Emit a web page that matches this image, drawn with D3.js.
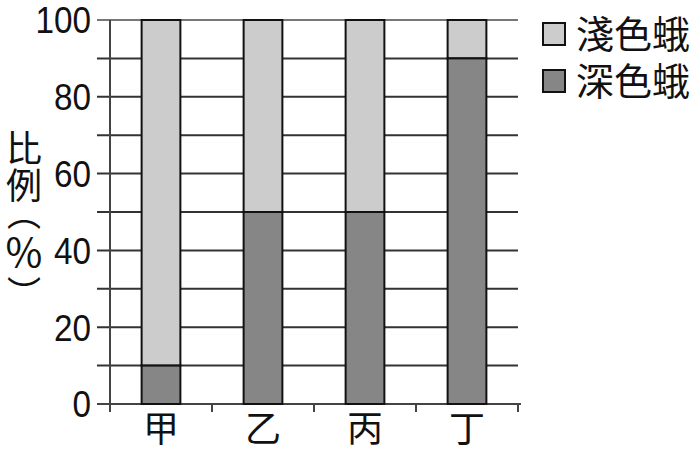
<!DOCTYPE html>
<html><head><meta charset="utf-8">
<script src="https://cdn.jsdelivr.net/npm/d3@7/dist/d3.min.js"></script>
<style>body{margin:0;background:#fff}svg{display:block}</style>
</head><body>
<script>
const categories = ["甲","乙","丙","丁"];
const darkValues = [10,50,50,90];
const lightValues = [90,50,50,10];
const seriesNames = ["淺色蛾","深色蛾"];
const yTicks = [0,20,40,60,80,100];
const gridValues = [0,10,20,30,40,50,60,70,80,90,100];
const titleChars = ["比","例","︵","%","︶"];

const W=695,H=452;
const svg=d3.select("body").append("svg").attr("width",W).attr("height",H);
const x=d3.scaleBand().domain(categories).range([110,518]).paddingInner(0.62).paddingOuter(0.31);
const xb=d3.scaleBand().domain(categories).range([110,518]);
const y=d3.scaleLinear().domain([0,100]).range([404,20]);
const cjk="'Noto Sans CJK TC','Noto Sans CJK SC',sans-serif";

// gridlines
svg.append("g").selectAll("line").data(gridValues).join("line")
  .attr("x1",97).attr("x2",518).attr("y1",d=>y(d)).attr("y2",d=>y(d))
  .attr("stroke",d=>d===100?"#777":"#333").attr("stroke-width",2);
// y axis line
svg.append("line").attr("x1",110).attr("x2",110).attr("y1",y(100)).attr("y2",412)
  .attr("stroke","#444").attr("stroke-width",2);
// x axis ticks at band boundaries
const bounds=categories.map(c=>xb(c)+xb.bandwidth());
svg.append("g").selectAll("line").data(bounds).join("line")
  .attr("x1",d=>d).attr("x2",d=>d).attr("y1",y(0)).attr("y2",412)
  .attr("stroke","#444").attr("stroke-width",2);
svg.append("line").attr("x1",97).attr("x2",521).attr("y1",y(0)).attr("y2",y(0))
  .attr("stroke","#444").attr("stroke-width",2);

// bars
const g=svg.append("g");
categories.forEach((c,i)=>{
  g.append("rect").attr("x",x(c)).attr("width",x.bandwidth())
    .attr("y",y(darkValues[i]+lightValues[i])).attr("height",y(darkValues[i])-y(darkValues[i]+lightValues[i]))
    .attr("fill","#cccccc").attr("stroke","#111").attr("stroke-width",2);
  g.append("rect").attr("x",x(c)).attr("width",x.bandwidth())
    .attr("y",y(darkValues[i])).attr("height",y(0)-y(darkValues[i]))
    .attr("fill","#868686").attr("stroke","#111").attr("stroke-width",2);
});

// y tick labels
svg.append("g").selectAll("text").data(yTicks).join("text")
  .attr("transform",d=>`translate(91,${y(d)}) scale(0.9,1)`)
  .attr("text-anchor","end").attr("dy","0.36em")
  .attr("font-family","'Liberation Sans',Arial,sans-serif").attr("font-size",37)
  .attr("fill","#111").text(d=>d);

// x labels
svg.append("g").selectAll("text").data(categories).join("text")
  .attr("x",d=>x(d)+x.bandwidth()/2).attr("y",428).attr("dy","0.38em")
  .attr("text-anchor","middle").attr("font-family",cjk).attr("font-size",36)
  .attr("fill","#111").text(d=>d);

// y title stacked
const titleY=[149,186,214,253,294];
const titleSize=[36,36,34,40,34];
svg.append("g").selectAll("text").data(titleChars).join("text")
  .attr("x",24).attr("y",(d,i)=>titleY[i]).attr("dy","0.36em")
  .attr("text-anchor","middle").attr("font-family",cjk).attr("font-size",(d,i)=>titleSize[i])
  .attr("fill","#111").text(d=>d);

// legend
const legColors=["#cccccc","#868686"];
const leg=svg.append("g");
seriesNames.forEach((n,i)=>{
  const cy=34+i*47;
  leg.append("rect").attr("x",543).attr("y",cy-11).attr("width",22).attr("height",22)
    .attr("fill",legColors[i]).attr("stroke","#111").attr("stroke-width",2);
  leg.append("text").attr("x",576).attr("y",cy).attr("dy","0.38em")
    .attr("font-family",cjk).attr("font-size",38).attr("fill","#111").text(n);
});
</script>
</body></html>
